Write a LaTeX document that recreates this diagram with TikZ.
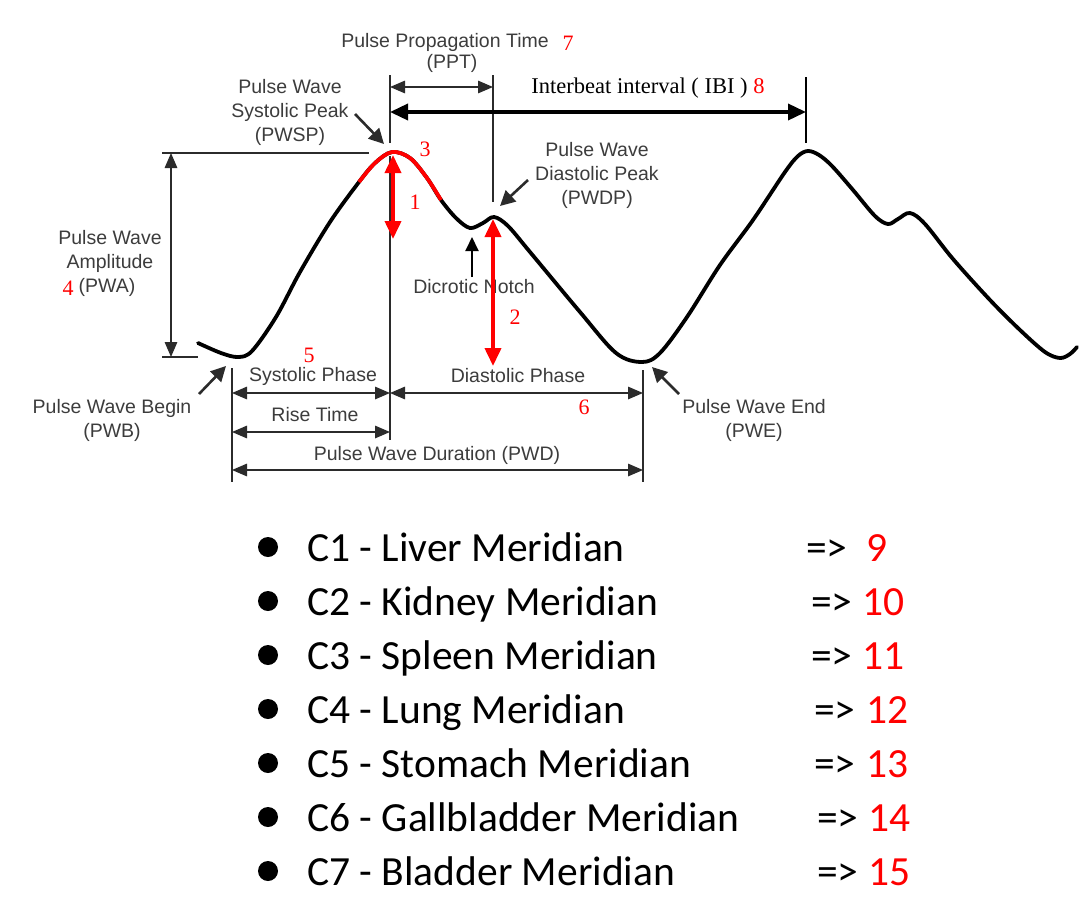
\documentclass[tikz,border=0pt]{standalone}
\usepackage{fontspec}
\setmainfont{Liberation Sans}
\newfontfamily\tms{Liberation Serif}
\newfontfamily\calf{Carlito}
\usetikzlibrary{arrows.meta}
\definecolor{lbl}{HTML}{3C3C3C}
\definecolor{dk}{HTML}{2B2B2B}
\definecolor{rd}{HTML}{FF0000}
\begin{document}
\begin{tikzpicture}[x=1pt,y=-1pt,
 lab/.style={text=lbl,font=\fontsize{19.5}{24}\selectfont,inner sep=0pt,align=center},
 rnum/.style={text=rd,font=\tms\fontsize{22}{26}\selectfont,inner sep=0pt},
 dimln/.style={draw=dk,line width=1.5pt},
 dimarr/.style={dimln,{Triangle[length=15pt,width=12.5pt]}-{Triangle[length=15pt,width=12.5pt]}},
 ibiarr/.style={draw=black,line width=3.6pt,{Triangle[length=18pt,width=16pt]}-{Triangle[length=18pt,width=16pt]}},
 ldr/.style={draw=dk,line width=2.6pt,-{Triangle[length=15pt,width=15pt]}},
 redarr/.style={draw=rd,line width=3.8pt,{Triangle[length=18pt,width=16pt]}-{Triangle[length=18pt,width=16pt]}},
 wave/.style={draw=black,line width=3.8pt,line cap=round,line join=round},
 itm/.style={font=\calf\fontsize{41.5}{48}\selectfont,anchor=base west,inner sep=0pt},
 bul/.style={circle,fill=black,minimum size=20pt,inner sep=0pt},
]
\useasboundingbox (0,0) rectangle (1079,922);

% ---------- waveform ----------
\draw[wave] plot[smooth,tension=0.55] coordinates {(198,343) (221,353) (238,357) (252,351) (276,317) (300,272) (330,222) (359,182) (375,163) (392,152) (410,158) (427,178) (441,200) (456,218) (470,228) (483,223) (494,217) (508,226) (530,252) (580,312) (616,353) (642,362) (660,353) (687,317) (720,265) (753,220) (785,172) (798,156) (808,151) (819,155) (832,166) (853,190) (875,216) (888,224) (898,219) (910,213) (925,224) (953,259) (990,300) (1020,330) (1045,352) (1060,358) (1070,354) (1077,347)};
\draw[wave,draw=rd,line cap=butt] plot[smooth,tension=0.55] coordinates {(359,182) (375,163) (392,152) (410,158) (427,178) (441,200)};

% ---------- coordinates ----------
\coordinate (sysTop) at (390,75);
\coordinate (sysTopB) at (390,143);
\coordinate (sysMid) at (390,156);
\coordinate (sysBot) at (390,440);
\coordinate (pptTop) at (493,75);
\coordinate (pptBot) at (493,202);
\coordinate (ibiTop) at (806,77);
\coordinate (ibiBot) at (806,143);
\coordinate (begTop) at (232,368);
\coordinate (begBot) at (232,482);
\coordinate (endTop) at (643,370);
\coordinate (endBot) at (643,482);
\coordinate (hT1) at (162,153);
\coordinate (hT2) at (369,153);
\coordinate (hB1) at (162,357);
\coordinate (hB2) at (198,357);
\coordinate (ampT) at (171,153);
\coordinate (ampB) at (171,357);
\coordinate (pptL) at (390,87);
\coordinate (pptR) at (493,87);
\coordinate (ibiL) at (390,112);
\coordinate (ibiR) at (806,112);
\coordinate (sysL) at (232,393);
\coordinate (sysR) at (390,393);
\coordinate (diaR) at (643,393);
\coordinate (riseL) at (232,432);
\coordinate (riseR) at (390,432);
\coordinate (pwdL) at (232,470);
\coordinate (pwdR) at (643,470);
\coordinate (r1T) at (393,155);
\coordinate (r1B) at (393,239);
\coordinate (r2T) at (493,219);
\coordinate (r2B) at (493,366);
\coordinate (dnS) at (472,277);
\coordinate (dnE) at (472,237);
\coordinate (spS) at (355,114);
\coordinate (spE) at (384,144);
\coordinate (dpS) at (528,180);
\coordinate (dpE) at (500,206);
\coordinate (bgS) at (199,394);
\coordinate (bgE) at (226,366);
\coordinate (enS) at (679,394);
\coordinate (enE) at (652,367);

% ---------- guide lines ----------
\draw[dimln] (sysTop) -- (sysTopB);
\draw[dimln] (sysMid) -- (sysBot);
\draw[dimln] (pptTop) -- (pptBot);
\draw[draw=black,line width=2pt] (ibiTop) -- (ibiBot);
\draw[dimln] (begTop) -- (begBot);
\draw[dimln] (endTop) -- (endBot);
\draw[dimln] (hT1) -- (hT2);
\draw[dimln] (hB1) -- (hB2);

% ---------- dimension arrows ----------
\draw[dimarr] (ampT) -- (ampB);
\draw[dimarr] (pptL) -- (pptR);
\draw[ibiarr] (ibiL) -- (ibiR);
\draw[dimarr] (sysL) -- (sysR);
\draw[dimarr] (sysR) -- (diaR);
\draw[dimarr] (riseL) -- (riseR);
\draw[dimarr] (pwdL) -- (pwdR);

% ---------- leaders ----------
\draw[ldr] (spS) -- (spE);
\draw[ldr] (dpS) -- (dpE);
\draw[ldr] (bgS) -- (bgE);
\draw[ldr] (enS) -- (enE);
\draw[draw=black,line width=2pt,-{Triangle[length=14pt,width=13pt]}] (dnS) -- (dnE);

% ---------- labels ----------
\node[lab] (ppt1) at (445,42) {Pulse Propagation Time};
\node[rnum] (n7) at (568,43) {7};
\node[lab] (ppt2) at (452,63) {(PPT)};
\node[font=\tms\fontsize{22.5}{26}\selectfont,inner sep=0pt] (ibi) at (648,88) {Interbeat interval ( IBI ) \textcolor{rd}{8}};
\node[lab] (pwsp) at (290,112) {Pulse Wave\\Systolic Peak\\(PWSP)};
\node[lab] (pwdp) at (597,175) {Pulse Wave\\Diastolic Peak\\(PWDP)};
\node[lab] (amp) at (110,251) {Pulse Wave\\Amplitude};
\node[rnum] (n4) at (68,288) {4};
\node[lab] (pwa) at (107,287) {(PWA)};
\node[rnum] (n3) at (425,149) {3};
\node[rnum] (n1) at (415,202) {1};
\node[lab] (dn) at (474,287) {Dicrotic Notch};
\draw[redarr] (r1T) -- (r1B);
\draw[redarr] (r2T) -- (r2B);
\node[rnum] (n2) at (515,317) {2};
\node[rnum] (n5) at (309,355) {5};
\node[lab] (sys) at (313,376) {Systolic Phase};
\node[lab] (dia) at (518,376) {Diastolic Phase};
\node[rnum] (n6) at (584,407) {6};
\node[lab] (rise) at (315,415) {Rise Time};
\node[lab] (pwd) at (437,455) {Pulse Wave Duration (PWD)};
\node[lab] (pwb) at (112,420) {Pulse Wave Begin\\(PWB)};
\node[lab] (pwe) at (754,420) {Pulse Wave End\\(PWE)};

% ---------- list ----------
\foreach \i/\txt/\ax/\nx/\n in {
 1/{C1 - Liver Meridian}/806/866/9,
 2/{C2 - Kidney Meridian}/811/862/10,
 3/{C3 - Spleen Meridian}/811/862/11,
 4/{C4 - Lung Meridian}/814/866/12,
 5/{C5 - Stomach Meridian}/814/866/13,
 6/{C6 - Gallbladder Meridian}/817/868/14,
 7/{C7 - Bladder Meridian}/817/868/15}{
  \pgfmathsetmacro{\yb}{561+(\i-1)*54}
  \node[bul] (b\i) at (268,\yb-14) {};
  \node[itm] (t\i) at (307,\yb) {\txt};
  \node[itm] (a\i) at (\ax,\yb) {=>};
  \node[itm,text=rd] (m\i) at (\nx,\yb) {\n};
}
\end{tikzpicture}
\end{document}
